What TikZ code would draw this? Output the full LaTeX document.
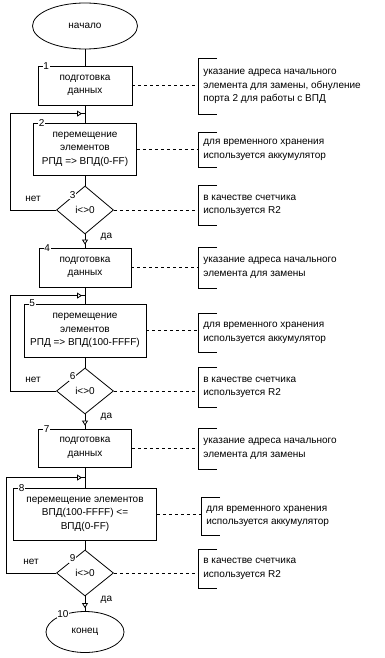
\documentclass[tikz,border=0pt]{standalone}
\usepackage{fontspec}
\setmainfont{Liberation Sans}
\usetikzlibrary{shapes.geometric, arrows.meta, decorations.markings, positioning}

\begin{document}
\begin{tikzpicture}[
  x=1pt, y=-1pt, line width=0.8pt,
  every node/.style={font=\fontsize{10}{13.5}\selectfont},
  block/.style={rectangle, draw, align=center, minimum height=39pt, inner sep=1pt},
  terminal/.style={ellipse, draw, inner sep=1pt},
  decision/.style={diamond, draw, minimum width=57pt, minimum height=46pt, inner sep=1pt},
  note/.style={anchor=west, align=left, minimum height=39pt, inner xsep=5pt, inner ysep=2pt},
  num/.style={fill=white, inner sep=0.8pt},
  line/.style={draw},
  dline/.style={draw, dash pattern=on 3pt off 3pt},
  loopline/.style={decoration={markings, mark=at position -3pt with {\arrow{Triangle[open, length=5pt, width=6pt, fill=white]}}}, postaction={decorate}},
  yeslabel/.style={pos=.2, right=12pt},
  nolabel/.style={midway, above=5pt}
]
    \useasboundingbox (0,0) rectangle (385,658);

    \node [terminal, minimum width=105pt, minimum height=46pt] (start) at (85,26) {начало};
    \node [block, below of=start, node distance=59.5pt, minimum width=94pt] (prep1) {подготовка\\данных};
    \node [block, below of=prep1, node distance=63.5pt, minimum width=103pt, minimum height=52pt] (move1) {перемещение\\элементов\\РПД => ВПД(0-FF)};
    \node [decision, below of=move1, node distance=61pt, minimum height=48pt] (check1) {i<>0};
    \node [block, below of=check1, node distance=57.5pt, minimum width=92pt] (prep2) {подготовка\\данных};
    \node [block, below of=prep2, node distance=63pt, minimum width=122pt, minimum height=53pt] (move2) {перемещение\\элементов\\РПД => ВПД(100-FFFF)};
    \node [decision, below of=move2, node distance=60.5pt] (check2) {i<>0};
    \node [block, below of=check2, node distance=57pt, minimum width=93pt, minimum height=38pt] (prep3) {подготовка\\данных};
    \node [block, below of=prep3, node distance=66pt, minimum width=143pt, minimum height=52pt] (move3) {перемещение элементов\\ВПД(100-FFFF) <=\\ВПД(0-FF)};
    \node [decision, below of=move3, node distance=59pt] (check3) {i<>0};
    \node [terminal, below of=check3, node distance=59pt, minimum width=78pt, minimum height=41pt] (stop) {конец};

    % comments
    \node [note, minimum height=55pt] (note1) at (198,86.5) {указание адреса начального\\элемента для замены, обнуление\\порта 2 для работы с ВПД};
    \node [note, minimum height=34pt] (note2) at (198,150) {для временного хранения\\используется аккумулятор};
    \node [note] (note3) at (198,205.5) {в качестве счетчика\\используется R2};
    \node [note, minimum height=40pt] (note4) at (198,268) {указание адреса начального\\элемента для замены};
    \node [note, minimum height=38pt] (note5) at (198,333) {для временного хранения\\используется аккумулятор};
    \node [note] (note6) at (198,387.5) {в качестве счетчика\\используется R2};
    \node [note, minimum height=40pt] (note7) at (198,449) {указание адреса начального\\элемента для замены};
    \node [note, minimum height=37pt] (note8) at (201,516.5) {для временного хранения\\используется аккумулятор};
    \node [note, minimum height=38pt] (note9) at (198,569) {в качестве счетчика\\используется R2};

    \foreach \i in {1,...,9}
        \draw ([xshift=19pt]note\i.north west) -- (note\i.north west) -- (note\i.south west) -- ++(19,0);
    \foreach \s/\i in {prep1/1, move1/2, check1/3, prep2/4, move2/5, check2/6, prep3/7, move3/8, check3/9}
        \path [dline] (\s.east) -- (\s.east -| note\i.west);

    % numbers
    \foreach \s/\i in {prep1/1, move1/2, prep2/4, move2/5, prep3/7, move3/8}
        \node [num] (k\i) at ([xshift=8.5pt]\s.north west) {\i};
    \foreach \s/\i in {check1/3, check2/6, check3/9}
        \node [num] (k\i) at ([xshift=2pt, yshift=3pt]\s.north west) {\i};
    \node [num] (k10) at ([xshift=-22pt, yshift=-3pt]stop.north) {10};

    \path [line] (start) -- (prep1);
    \path [line] (prep1) -- (move1);
    \path [line] (move1) -- (check1);
    \path [line, loopline] (check1.south) -- (prep2.north) node [yeslabel] (yes1) {да};
    \path [line, loopline] (check1.west) -- ++(-46,0) node [nolabel] (no1) {нет} |- ([yshift=9pt]move1.north);
    \path [line] (prep2) -- (move2);
    \path [line] (move2) -- (check2);
    \path [line, loopline] (check2.south) -- (prep3.north) node [yeslabel] (yes2) {да};
    \path [line, loopline] (check2.west) -- ++(-46,0) node [nolabel] (no2) {нет} |- ([yshift=8pt]move2.north);
    \path [line] (prep3) -- (move3);
    \path [line] (move3) -- (check3);
    \path [line, loopline] (check3.south) -- (stop.north) node [yeslabel] (yes3) {да};
    \path [line, loopline] (check3.west) -- ++(-50,0) node [nolabel] (no3) {нет} |- ([yshift=10pt]move3.north);
\end{tikzpicture}
\end{document}
